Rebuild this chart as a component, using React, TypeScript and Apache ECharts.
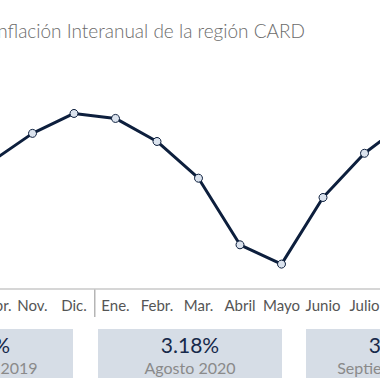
import React, { useEffect, useRef } from "react";
import * as echarts from "echarts";

const categories = ["Octbr.", "Nov.", "Dic.", "Ene.", "Febr.", "Mar.", "Abril", "Mayo", "Junio", "Julio", "Agost.", "Sept."];
const inflation = [2.54, 3.0, 3.32, 3.24, 2.87, 2.28, 1.21, 0.9, 1.97, 2.68, 3.18, 3.4];
const boxIndices = [2, 10, 11];
const boxLabels = ["Diciembre 2019", "Agosto 2020", "Septiembre 2020"];
const titleText = "Inflación Interanual de la región CARD";
const yearBreakAfter = "Dic.";
const yearBreakBefore = "Ene.";

const FONT = "Lato, 'Noto Sans', sans-serif";
const OFF = 130;
const INNER_W = 380 + 2 * OFF;

export default function App() {
  const ref = useRef<HTMLDivElement>(null);
  useEffect(() => {
    if (!ref.current) return;
    const chart = echarts.init(ref.current, undefined, { renderer: "svg" });
    const boxW = 184;
    const boxLefts = [-111, 98, 306].map((v) => v + OFF);
    const graphics: any[] = [
      {
        type: "text",
        x: 305 + OFF,
        y: 30,
        style: {
          text: titleText,
          fill: "#6b6b6b",
          font: `300 19px ${FONT}`,
          textAlign: "right",
          textVerticalAlign: "middle",
        },
      },
    ];
    boxIndices.forEach((idx, i) => {
      const x = boxLefts[i];
      graphics.push({
        type: "rect",
        shape: { x, y: 329, width: boxW, height: 49 },
        style: { fill: "#d6dde6" },
      });
      graphics.push({
        type: "text",
        x: x + boxW / 2,
        y: 344,
        style: {
          text: inflation[idx].toFixed(2) + "%",
          fill: "#17294a",
          font: `400 21px ${FONT}`,
          textAlign: "center",
          textVerticalAlign: "middle",
        },
      });
      graphics.push({
        type: "text",
        x: x + boxW / 2,
        y: 367,
        style: {
          text: boxLabels[i],
          fill: "#8a8a8a",
          font: `400 16px ${FONT}`,
          textAlign: "center",
          textVerticalAlign: "middle",
        },
      });
    });
    const gridLeft = OFF - 29.75;
    const gridW = 41.5 * categories.length;
    const gridBottom = 91;
    chart.setOption({
      animation: false,
      grid: { left: gridLeft, right: INNER_W - gridLeft - gridW, top: 40, bottom: gridBottom },
      xAxis: {
        type: "category",
        data: categories,
        boundaryGap: true,
        axisLine: { lineStyle: { color: "#c8c8c8", width: 1.5 } },
        axisTick: { show: false },
        axisLabel: {
          interval: 0,
          color: "#555",
          fontFamily: FONT,
          fontSize: 15,
          margin: 8,
        },
      },
      yAxis: {
        type: "value",
        min: 0.5,
        max: 4.5,
        show: false,
        splitLine: { show: false },
      },
      series: [
        {
          type: "line",
          data: inflation,
          lineStyle: { color: "#0d1f3d", width: 3 },
          itemStyle: { color: "#dbe3ee", borderColor: "#0d1f3d", borderWidth: 1 },
          symbol: "circle",
          symbolSize: 8,
          showAllSymbol: true,
        },
      ],
      graphic: graphics,
    });
    const xa = chart.convertToPixel({ xAxisIndex: 0 }, yearBreakAfter) as number;
    const xb = chart.convertToPixel({ xAxisIndex: 0 }, yearBreakBefore) as number;
    const sepX = (xa + xb) / 2;
    const axisY = 380 - gridBottom;
    chart.setOption({
      graphic: [
        ...graphics,
        {
          type: "line",
          shape: { x1: sepX, y1: axisY, x2: sepX, y2: axisY + 28 },
          style: { stroke: "#b5b5b5", lineWidth: 1.5 },
        },
      ],
    });
    return () => chart.dispose();
  }, []);
  return (
    <div
      style={{ position: "fixed", left: 0, top: 0, width: 380, height: 380, overflow: "hidden", background: "#fff" }}
    >
      <div
        ref={ref}
        style={{ position: "absolute", left: -OFF, top: 0, width: INNER_W, height: 380 }}
      />
    </div>
  );
}
